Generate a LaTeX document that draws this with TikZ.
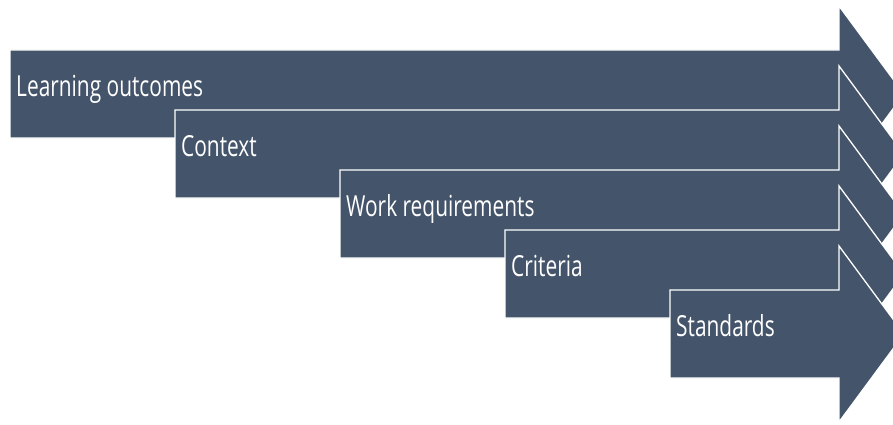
\documentclass[tikz,border=0pt]{standalone}
\usepackage{fontspec}
\newfontfamily\labfont[FakeStretch=0.72]{Open Sans}
\definecolor{arrowfill}{HTML}{44546A}
\begin{document}
\begin{tikzpicture}[x=1pt,y=-1pt,
  arr/.style={fill=arrowfill, draw=white, line width=1.3pt, line join=miter},
  lab/.style={text=white, font=\labfont\fontsize{29}{30}\selectfont, anchor=base west, inner sep=0pt}]
\useasboundingbox (0,0) rectangle (893,425);
\clip (0,0) rectangle (893,425);
\foreach \k/\t in {0/Learning outcomes,1/Context,2/Work requirements,3/Criteria,4/Standards} {
  \pgfmathsetmacro\L{10+165*\k}
  \pgfmathsetmacro\T{50+60*\k}
  \pgfmathsetmacro\B{138+60*\k}
  \pgfmathsetmacro\C{94+60*\k}
  \draw[arr] (\L,\T) -- (839,\T) -- (839,\T-44) -- (904,\C) -- (839,\B+44) -- (839,\B) -- (\L,\B) -- cycle;
  \node[lab] (t\k) at (\L+6,\C+2.5) {\t};
}
\end{tikzpicture}
\end{document}
